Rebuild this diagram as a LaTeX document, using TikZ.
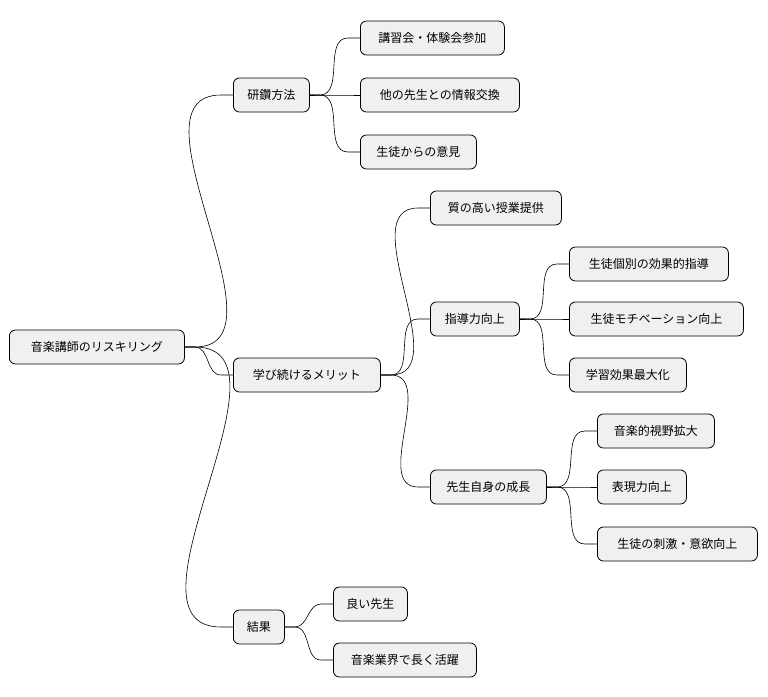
\documentclass[tikz,border=0pt]{standalone}
\usepackage{fontspec}
\setmainfont{Noto Sans CJK JP}
\usetikzlibrary{calc}
\begin{document}
\begin{tikzpicture}[x=1pt,y=-1pt,
  box/.style={draw=black,fill=gray!12,rounded corners=6pt,line width=0.8pt,minimum height=34pt,inner xsep=0pt,font=\fontsize{12}{14}\selectfont,anchor=west},
  con/.style={draw=black,line width=0.6pt}]
\useasboundingbox (0,0) rectangle (768,696);
\newcommand{\bx}[5]{\node[box,minimum width=#4pt] (#1) at (#2,#3) {#5};}
\bx{root}{9}{347}{175}{音楽講師のリスキリング}
\bx{a}{233}{95}{76}{研鑽方法}
\bx{a1}{360}{38}{144}{講習会・体験会参加}
\bx{a2}{360}{95}{159}{他の先生との情報交換}
\bx{a3}{360}{152}{116}{生徒からの意見}
\bx{b}{233}{375}{147}{学び続けるメリット}
\bx{b1}{430}{208}{131}{質の高い授業提供}
\bx{b2}{430}{319}{89}{指導力向上}
\bx{b21}{569}{264}{159}{生徒個別の効果的指導}
\bx{b22}{569}{319}{174}{生徒モチベーション向上}
\bx{b23}{569}{375}{117}{学習効果最大化}
\bx{b3}{430}{487}{116}{先生自身の成長}
\bx{b31}{597}{431}{117}{音楽的視野拡大}
\bx{b32}{597}{487}{89}{表現力向上}
\bx{b33}{597}{544}{160}{生徒の刺激・意欲向上}
\bx{c}{233}{627}{51}{結果}
\bx{c1}{333}{604}{74}{良い先生}
\bx{c2}{333}{660}{143}{音楽業界で長く活躍}
\foreach \p/\c in {root/a,root/b,root/c,a/a1,a/a2,a/a3,b/b1,b/b2,b/b3,b2/b21,b2/b22,b2/b23,b3/b31,b3/b32,b3/b33,c/c1,c/c2}{
  \draw[con] (\p.east) -- ++(10,0) to[out=0,in=180] ($(\c.west)+(-12,0)$) -- (\c.west);
}
\end{tikzpicture}
\end{document}
